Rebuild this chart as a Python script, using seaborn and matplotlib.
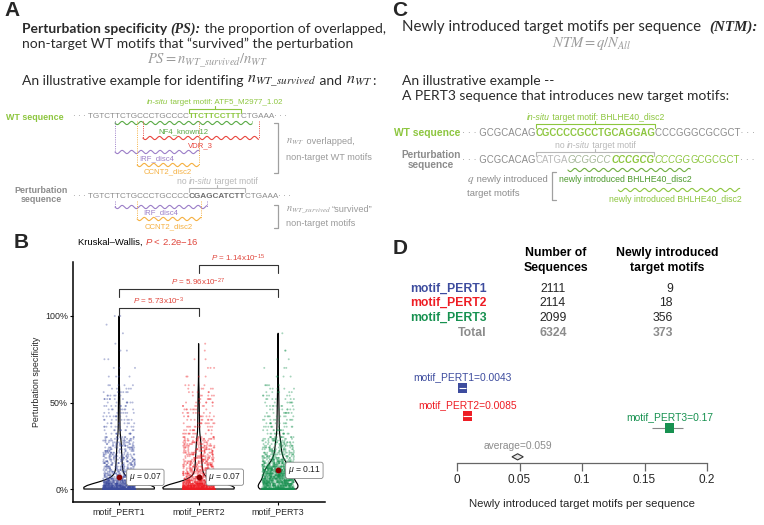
import numpy as np
import pandas as pd
import matplotlib
matplotlib.use('Agg')
import matplotlib.pyplot as plt
import seaborn as sns

# ---------------- data ----------------
groups = ['motif_PERT1', 'motif_PERT2', 'motif_PERT3']
group_colors = ['#3D4C9E', '#EE1D24', '#179150']

# perturbation specificity: value level -> number of sequences (estimated from panel B)
ps_levels = [0.00, 0.01, 0.02, 0.03, 0.04, 0.05, 0.06, 0.07, 0.08, 0.09,
             0.10, 0.11, 0.12, 0.13, 0.14, 0.15, 0.16, 0.17, 0.18, 0.19,
             0.20, 0.21, 0.22, 0.23, 0.24, 0.25, 0.26, 0.27, 0.28, 0.29,
             0.30, 0.32, 0.34, 0.36, 0.38, 0.40, 0.42, 0.44, 0.46, 0.48,
             0.50, 0.52, 0.54, 0.56, 0.58, 0.60, 0.65, 0.70, 0.75, 0.80,
             0.84, 0.90, 0.95, 1.00]
ps_counts_pert1 = [1116, 130, 110, 90, 70, 50, 28, 25, 23, 21,
                   20, 19, 19, 18, 18, 17, 17, 16, 16, 15,
                   15, 14, 14, 13, 13, 13, 12, 12, 12, 11,
                   11, 10, 10, 10, 9, 9, 9, 8, 8, 8,
                   7, 7, 6, 6, 5, 5, 4, 3, 2, 2,
                   1, 1, 1, 2]
ps_counts_pert2 = [1019, 130, 110, 90, 70, 50, 29, 26, 24, 22,
                   21, 20, 20, 19, 18, 18, 17, 17, 16, 16,
                   15, 15, 14, 14, 13, 13, 13, 12, 12, 12,
                   11, 11, 10, 10, 10, 9, 9, 8, 8, 7,
                   7, 6, 6, 5, 5, 4, 4, 3, 2, 1,
                   1, 0, 0, 0]
ps_counts_pert3 = [400, 70, 72, 72, 72, 72, 72, 72, 72, 72,
                   70, 68, 62, 54, 45, 37, 30, 25, 21, 18,
                   18, 17, 16, 15, 14, 14, 13, 13, 12, 12,
                   12, 12, 11, 11, 10, 10, 9, 9, 8, 8,
                   7, 7, 6, 6, 5, 5, 4, 3, 2, 2,
                   0, 1, 0, 0]
ps_mean_text = ['0.07', '0.07', '0.11']
kw_pvalue = '2.2e−16'
pair_groups = [(0, 1), (0, 2), (1, 2)]
pair_mantissa = ['5.73', '5.96', '1.14']
pair_exponent = ['-3', '-27', '-15']

n_sequences = [2111, 2114, 2099]
n_new_motifs = [9, 18, 356]
total_row = ['6324', '373']

ntm = [0.0043, 0.0085, 0.17]
ntm_lo = [0.0018, 0.0050, 0.156]
ntm_hi = [0.0068, 0.0120, 0.181]
ntm_average = 0.059
avg_diamond = [0.044, 0.0485, 0.053]   # lower, centre, upper

# illustrative sequences (panels A and C)
a_wt_seq = 'TGTCTTCTGCCCTGCCCCTTCTTCCTTTCTGAAA'
a_pert_seq = 'TGTCTTCTGCCCTGCCCCCGAGCATCTTCTGAAA'
a_target = (18, 28)
a_wt_motifs = [('NF4_known12', 5, 30), ('VDR_3', 10, 31), ('IRF_disc4', 5, 20), ('CCNT2_disc2', 9, 20)]
a_pert_motifs = [('IRF_disc4', 5, 21), ('CCNT2_disc2', 9, 20)]
c_wt_seq = 'GCGCACAGCGCCCCGCCTGCAGGAGCCCGGGCGCGCT'
c_pert_seq = 'GCGCACAGCATGAGCGGCCCCCGCGCCCGGGCGCGCT'
c_target = (8, 25)
c_new_motifs = [(13, 30), (20, 37)]

# ---------------- style ----------------
sns.set_style('ticks')
plt.rcParams['font.family'] = ['Liberation Sans', 'DejaVu Sans']
plt.rcParams['mathtext.fontset'] = 'custom'
plt.rcParams['mathtext.rm'] = 'Liberation Sans'
plt.rcParams['mathtext.it'] = 'Liberation Sans:italic'
plt.rcParams['mathtext.bf'] = 'Liberation Sans:bold'

LIME = '#8DC63F'
DGREEN = '#5AAA46'
GREY = '#8C8C8C'
LGREY = '#B8B8B8'
TXT = '#2B2B2B'
motif_colors = {'NF4_known12': DGREEN, 'VDR_3': '#E8463E',
                'IRF_disc4': '#9C7FC8', 'CCNT2_disc2': '#F5B041'}

W, H = 764, 525
fig = plt.figure(figsize=(W / 100, H / 100), dpi=100)
ov = fig.add_axes([0, 0, 1, 1])
ov.set_xlim(0, W)
ov.set_ylim(H, 0)
ov.axis('off')
R = fig.canvas.get_renderer()


def width(s, **kw):
    if not s:
        return 0
    t = ov.text(0, 0, s, **kw)
    w = t.get_window_extent(R).width
    t.remove()
    return w


def runs(x, y, parts, ha='left', **common):
    arts = [ov.text(0, y, s, va='center', **{**common, **kw}) for s, kw in parts]
    ws = [t.get_window_extent(R).width for t in arts]
    x0 = x - sum(ws) / 2 if ha == 'center' else x
    xs = []
    for t, w in zip(arts, ws):
        t.set_x(x0)
        xs.append(x0)
        x0 += w
    xs.append(x0)
    return xs


def seq_row(x, y, parts, size):
    common = dict(fontsize=size)
    xs = runs(x, y, parts, **common)

    def at(i):
        i += 6  # skip the leading dots
        n = 0
        for (s, kw), x0 in zip(parts, xs):
            if i <= n + len(s):
                return x0 + width(s[:i - n], **{**common, **kw})
            n += len(s)
        return xs[-1]
    return at


def squiggle(x0, x1, y, color, lw=0.8):
    xx = np.linspace(x0, x1, 150)
    ov.plot(xx, y + 1.6 * np.sin((xx - x0) / 9.5 * 2 * np.pi), color=color, lw=lw)


def motif(at, i0, i1, y_top, y_wave, color, label, y_lab):
    xa, xb = at(i0), at(i1)
    for xx in (xa, xb):
        ov.plot([xx, xx], [y_top, y_wave], color=color, lw=0.7, ls=(0, (1, 1.3)))
    squiggle(xa, xb, y_wave, color)
    ov.text((xa + xb) / 2, y_lab, label, color=color, fontsize=5.6, ha='center', va='center')


def brace(xa, xb, y, color):
    ov.plot([xa, xa, xb, xb], [y + 4, y, y, y + 4], color=color, lw=0.8)
    xm = (xa + xb) / 2
    ov.plot([xm, xm], [y, y - 3], color=color, lw=0.8)


def side_bracket(x, y0, y1, color, right=True):
    d = -4 if right else 4
    ov.plot([x + d, x, x, x + d], [y0, y0, y1, y1], color=color, lw=0.9)


title_kw = dict(family=['Lato', 'DejaVu Sans'], fontsize=10.0, color=TXT)
serif_bi = dict(family=['Liberation Serif'], weight='bold', style='italic')
dots = '· · · '
A_SEQ = 5.85
C_SEQ = 6.9

# ---------------- panel A ----------------
ov.text(4, 11, 'A', fontsize=15, weight='bold', va='center')
runs(22, 29, [('Perturbation specificity ', dict(weight='bold')),
              ('(PS):', serif_bi),
              (' the proportion of overlapped,', {})], **title_kw)
ov.text(22, 44, 'non-target WT motifs that “survived” the perturbation', va='center', **title_kw)
ov.text(207, 61, r'$PS = n_{WT\_survived}/n_{WT}$', math_fontfamily='stix',
        color='#9A9A9A', fontsize=10.5, ha='center', va='center')
runs(22, 81, [('An illustrative example for identifing ', {}),
              (r'$n_{WT\_survived}$', dict(math_fontfamily='stix', fontsize=11.5)),
              (' and ', {}),
              (r'$n_{WT}$', dict(math_fontfamily='stix', fontsize=11.5)),
              (':', {})], **title_kw)

ov.text(64, 117, 'WT sequence', color=LIME, weight='bold', fontsize=6.4, ha='right', va='center')
t0, t1 = a_target
at_wt = seq_row(73, 117, [(dots + a_wt_seq[:t0], dict(color=GREY)),
                          (a_wt_seq[t0:t1], dict(color=LIME, weight='bold')),
                          (a_wt_seq[t1:] + '· · ·', dict(color=GREY))], A_SEQ)
brace(at_wt(t0), at_wt(t1), 109, LIME)
runs((at_wt(t0) + at_wt(t1)) / 2, 102, [('in-situ', dict(style='italic')),
                                        (' target motif: ATF5_M2977_1.02', {})],
     ha='center', color=LIME, fontsize=5.8)
for (name, i0, i1), yw, yl in zip(a_wt_motifs, [123, 138, 152, 165], [132, 146, 159, 172]):
    motif(at_wt, i0, i1, 121, yw, motif_colors[name], name, yl)
side_bracket(278, 123, 173, '#A0A0A0')
runs(286, 142, [(r'$n_{WT}$', dict(math_fontfamily='stix', fontsize=7.5)),
                (' overlapped,', {})], color='#9A9A9A', fontsize=6.6)
ov.text(286, 157, 'non-target WT motifs', color='#9A9A9A', fontsize=6.6, va='center')

ov.text(41, 195, 'Perturbation\nsequence', color=GREY, weight='bold', fontsize=6.4,
        ha='center', va='center', linespacing=1.05)
at_pa = seq_row(73, 197, [(dots + a_pert_seq[:t0], dict(color=GREY)),
                          (a_pert_seq[t0:t1], dict(color='#6E6E6E', weight='bold')),
                          (a_pert_seq[t1:] + '· · ·', dict(color=GREY))], A_SEQ)
brace(at_pa(t0), at_pa(t1), 188, LGREY)
runs((at_pa(t0) + at_pa(t1)) / 2, 182, [('no ', {}), ('in-situ', dict(style='italic')),
                                        (' target motif', {})],
     ha='center', color=LGREY, fontsize=6.2)
for (name, i0, i1), yw, yl in zip(a_pert_motifs, [207, 219], [213, 227]):
    motif(at_pa, i0, i1, 201, yw, motif_colors[name], name, yl)
side_bracket(278, 205, 228, '#A0A0A0')
runs(286, 210, [(r'$n_{WT\_survived}$', dict(math_fontfamily='stix', fontsize=7.5)),
                ('“survived”', {})], color='#9A9A9A', fontsize=6.6)
ov.text(286, 223, 'non-target motifs', color='#9A9A9A', fontsize=6.6, va='center')

# ---------------- panel C ----------------
ov.text(392, 10, 'C', fontsize=15, weight='bold', va='center')
runs(402, 27, [('Newly introduced target motifs per sequence  ', dict(fontsize=10.8)),
               ('(NTM):', dict(serif_bi, fontsize=10.8))], **title_kw)
ov.text(592, 43, r'$NTM = q/N_{All}$', math_fontfamily='stix',
        color='#9A9A9A', fontsize=10.5, ha='center', va='center')
ov.text(402, 81, 'An illustrative example --', va='center', **title_kw)
ov.text(402, 96, 'A PERT3 sequence that introduces new target motifs:', va='center', **title_kw)

c0, c1 = c_target
ov.text(460, 133, 'WT sequence', color=LIME, weight='bold', fontsize=7.4, ha='right', va='center')
at_cw = seq_row(462, 133, [(dots + c_wt_seq[:c0], dict(color=GREY)),
                           (c_wt_seq[c0:c1], dict(color=LIME, weight='bold')),
                           (c_wt_seq[c1:] + '· · ·', dict(color=GREY))], C_SEQ)
brace(at_cw(c0), at_cw(c1), 124, LIME)
runs((at_cw(c0) + at_cw(c1)) / 2, 117, [('in-situ', dict(style='italic')),
                                        (' target motif: BHLHE40_disc2', {})],
     ha='center', color=LIME, fontsize=6.2)

ov.text(431, 160, 'Perturbation\nsequence', color=GREY, weight='bold', fontsize=7.2,
        ha='center', va='center', linespacing=1.05)
at_cp = seq_row(462, 160, [(dots + c_pert_seq[:8], dict(color=GREY)),
                           (c_pert_seq[8:13], dict(color=LGREY)),
                           (c_pert_seq[13:19], dict(color='#A3B596', style='italic')),
                           (c_pert_seq[19:25], dict(color=LIME, style='italic', weight='bold')),
                           (c_pert_seq[25:30], dict(color=LIME, style='italic')),
                           (c_pert_seq[30:], dict(color=LIME)),
                           ('· · ·', dict(color=GREY))], C_SEQ)
brace(at_cp(c0), at_cp(c1), 152, LGREY)
runs((at_cp(c0) + at_cp(c1)) / 2, 146, [('no ', {}), ('in-situ', dict(style='italic')),
                                        (' target motif', {})],
     ha='center', color=LGREY, fontsize=6.2)
for (i0, i1), yw, yl, col, lcol in zip(c_new_motifs, [170, 190], [180, 199],
                                       ['#72B043', LIME], ['#4E9A2E', LIME]):
    xa, xb = at_cp(i0), at_cp(i1)
    squiggle(xa, xb, yw, col)
    ov.text((xa + xb) / 2 - 4, yl, 'newly introduced BHLHE40_disc2', color=lcol,
            fontsize=6.3, ha='center', va='center')
runs(467, 180, [(r'$q$', dict(math_fontfamily='stix', fontsize=8)),
                (' newly introduced', {})], color=GREY, fontsize=6.8)
ov.text(467, 193, 'target motifs', color=GREY, fontsize=6.8, va='center')
side_bracket(552, 172, 200, '#A0A0A0', right=False)

# ---------------- panel D table ----------------
ov.text(393, 249, 'D', fontsize=15, weight='bold', va='center')
hdr = dict(fontsize=8.8, weight='bold', color='black', ha='center', va='center')
ov.text(556, 253, 'Number of', **hdr)
ov.text(556, 268, 'Sequences', **hdr)
ov.text(667, 253, 'Newly introduced', **hdr)
ov.text(667, 268, 'target motifs', **hdr)
row_px = [289, 303, 318, 333]
for g, c, n, q, yy in zip(groups, group_colors, n_sequences, n_new_motifs, row_px):
    ov.text(487, yy, g, color=c, fontsize=8.8, weight='bold', ha='right', va='center')
    ov.text(553, yy, str(n), fontsize=8.8, ha='center', va='center')
    ov.text(673, yy, str(q), fontsize=8.8, ha='right', va='center')
ov.text(487, row_px[3], 'Total', color=GREY, fontsize=8.8, weight='bold', ha='right', va='center')
ov.text(553, row_px[3], total_row[0], color=GREY, fontsize=8.8, weight='bold', ha='center', va='center')
ov.text(673, row_px[3], total_row[1], color=GREY, fontsize=8.8, weight='bold', ha='right', va='center')

# ---------------- panel B ----------------
frames = []
for g, counts in zip(groups, [ps_counts_pert1, ps_counts_pert2, ps_counts_pert3]):
    frames.append(pd.DataFrame({'group': g, 'ps': np.repeat(ps_levels, counts)}))
ps_df = pd.concat(frames, ignore_index=True)

ov.text(14, 243, 'B', fontsize=15, weight='bold', va='center')
runs(78, 242, [('Kruskal–Wallis, ', dict(color='black')),
               (r'$P$ < ' + kw_pvalue, dict(color='#E0463C'))], fontsize=6.8)

axB = fig.add_axes([73 / W, 1 - 502 / H, 252 / W, 240 / H])
axB.patch.set_alpha(0)
sns.stripplot(data=ps_df, x='group', y='ps', hue='group', palette=group_colors,
              jitter=0.2, size=1.4, alpha=0.38, linewidth=0, legend=False, ax=axB)
sns.violinplot(data=ps_df, x='group', y='ps', color='black', fill=False, inner=None,
               cut=0, bw_adjust=1.0, width=0.9, linewidth=0.85, ax=axB)
means = ps_df.groupby('group')['ps'].mean().reindex(groups)
for i, (m, lab) in enumerate(zip(means, ps_mean_text)):
    axB.scatter(i, m, color='#8B0000', s=10, zorder=5)
    axB.annotate(r'$\mu$ = ' + lab, (i, m), xytext=(7, 0), textcoords='offset points',
                 ha='left', va='center', fontsize=6.2, color='#222222', zorder=6,
                 bbox=dict(boxstyle='round,pad=0.25', fc='white', ec='#888888', lw=0.6))
for (a, b), yb, mant, ex in zip(pair_groups, [1.046, 1.156, 1.295], pair_mantissa, pair_exponent):
    axB.plot([a, a, b, b], [yb - 0.045, yb, yb, yb - 0.045], color='#333333', lw=0.8)
    axB.text((a + b) / 2, yb + 0.04, r'$P$ = ' + mant + 'x10$^{' + ex + '}$',
             ha='center', va='center', color='#E0463C', fontsize=5.8)
axB.set_ylim(-0.075, 1.312)
axB.set_xlim(-0.58, 2.59)
axB.set_yticks([0, 0.5, 1.0])
axB.set_yticklabels(['0%', '50%', '100%'])
axB.set_xlabel('')
axB.set_ylabel('Perturbation specificity', fontsize=6.4, labelpad=3)
axB.tick_params(labelsize=6.4, length=2.5, width=0.8, color='black', pad=1)
for s in ['left', 'bottom']:
    axB.spines[s].set_linewidth(1.1)
    axB.spines[s].set_color('black')
sns.despine(ax=axB)

# ---------------- panel D forest plot ----------------
row_y = [0, 1.0, 1.43, 2.46]
axD = fig.add_axes([457 / W, 1 - 463 / H, 250 / W, 93 / H])
axD.patch.set_alpha(0)
ci_colors = ['white', 'white', '#888888']
for i in range(3):
    axD.hlines(row_y[i], ntm_lo[i], ntm_hi[i], color=ci_colors[i], lw=0.8,
               zorder=4 if ci_colors[i] == 'white' else 2)
sns.scatterplot(x=ntm, y=row_y[:3], hue=groups, palette=group_colors, marker='s', s=48,
                linewidth=0, legend=False, ax=axD, zorder=3, clip_on=False)
lo, mid, hi = avg_diamond
yd = row_y[3]
axD.fill([lo, mid, hi, mid], [yd, yd - 0.11, yd, yd + 0.11], fc='#E6E6E6', ec='#333333', lw=0.8)
for g, c, v, yy in zip(groups, group_colors, ntm, row_y):
    axD.annotate(f'{g}={v}', (v, yy), xytext=(0, 8), textcoords='offset points',
                 ha='center', va='center', color=c, fontsize=7.4, annotation_clip=False)
axD.annotate(f'average={ntm_average}', (mid, yd), xytext=(0, 7.5), textcoords='offset points',
             ha='center', va='center', color='#8C8C8C', fontsize=7.4, annotation_clip=False)
axD.set_xlim(0, 0.2)
axD.set_ylim(2.68, -0.64)
axD.set_xticks([0, 0.05, 0.1, 0.15, 0.2])
axD.set_xticklabels(['0', '0.05', '0.1', '0.15', '0.2'])
axD.set_yticks([])
axD.tick_params(axis='x', direction='out', length=6, width=0.9, color='#666666',
                labelsize=8.5, pad=2)
axD.set_xlabel('Newly introduced target motifs per sequence', fontsize=8.2, labelpad=9)
sns.despine(ax=axD, left=True)
axD.spines['bottom'].set_color('#666666')
axD.spines['bottom'].set_linewidth(0.9)

fig.savefig('out.png', dpi=100)
